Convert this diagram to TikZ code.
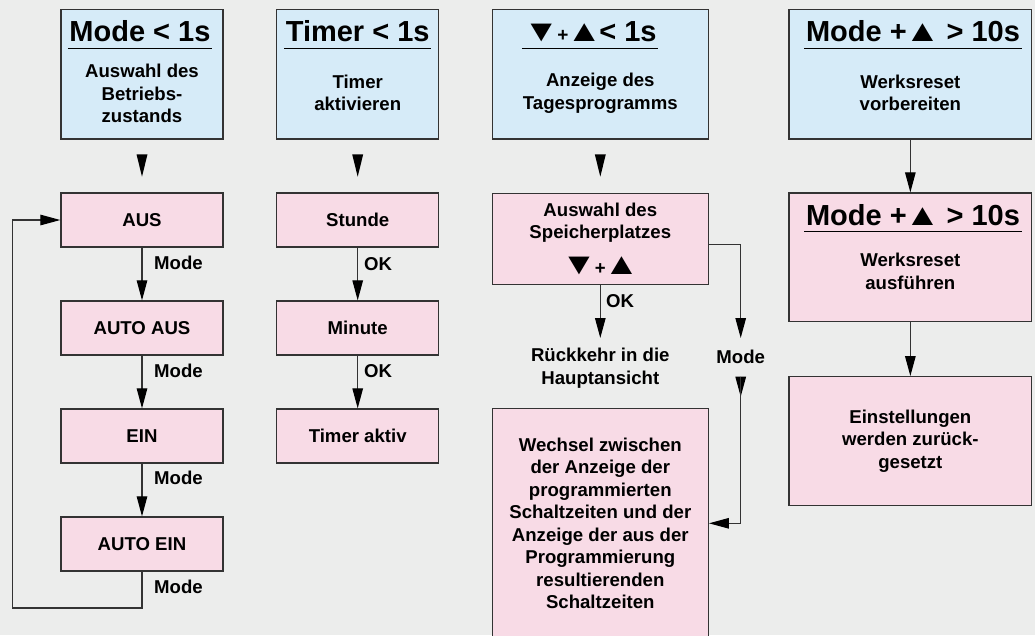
\documentclass[tikz,border=0pt]{standalone}
\usepackage{fontspec}
\usepackage{graphicx}
\setmainfont{Liberation Sans}
\usetikzlibrary{arrows.meta}
\definecolor{bgc}{RGB}{236,237,236}
\definecolor{bluec}{RGB}{214,235,248}
\definecolor{pinkc}{RGB}{248,219,230}
\definecolor{linec}{RGB}{51,51,51}
\newcommand\smallplus{{\fontsize{19}{19}\selectfont+}}
\newcommand\dtri{\scalebox{1.25}[1.05]{\fontsize{29}{29}\selectfont▼}}
\newcommand\utri{\scalebox{1.25}[1.05]{\fontsize{29}{29}\selectfont▲}}
\begin{document}
\begin{tikzpicture}[x=1pt,y=-1pt,
  font=\fontsize{18.6}{22.5}\selectfont\bfseries,
  box/.style={draw=linec,line width=1.3pt,inner sep=0pt,align=center},
  bluebox/.style={box,fill=bluec,minimum height=129.7pt},
  pinkbox/.style={box,fill=pinkc},
  hdr/.style={font=\fontsize{29}{34}\selectfont\bfseries,inner xsep=1.5pt,inner ysep=0pt,anchor=base},
  lbl/.style={inner sep=0pt,anchor=west},
  arr/.style={draw=linec,line width=1.2pt,-{Triangle[length=20pt,width=10.5pt,color=black]}}]
\useasboundingbox (0,0) rectangle (1035,635);
\fill[bgc] (0,0) rectangle (1035,635);
% Betriebszustand
\node[bluebox,minimum width=162pt] (mode) at (142,74.2) {};
\node[hdr] (modeh) at (140,41.7) {Mode < 1s};
\node[align=center] (modet) at (142,93.5) {Auswahl des\\Betriebs-\\zustands};
\node[pinkbox,minimum width=162pt,minimum height=54pt] (aus) at (142,220) {AUS};
\node[pinkbox,minimum width=162pt,minimum height=54pt] (autoaus) at (142,328) {AUTO AUS};
\node[pinkbox,minimum width=162pt,minimum height=54pt] (ein) at (142,436) {EIN};
\node[pinkbox,minimum width=162pt,minimum height=54pt] (autoein) at (142,544) {AUTO EIN};
\draw[arr] (aus) -- (autoaus);
\draw[arr] (autoaus) -- (ein);
\draw[arr] (ein) -- (autoein);
\coordinate (back) at (12.7,608);
\draw[arr] (autoein) |- (back) |- (aus);
\node[lbl] (m1) at (154,262.7) {Mode};
\node[lbl] (m2) at (154,371) {Mode};
\node[lbl] (m3) at (154,478.3) {Mode};
\node[lbl] (m4) at (154,586.7) {Mode};
% Timer
\node[bluebox,minimum width=162pt] (timer) at (357.7,74.2) {};
\node[hdr] (timerh) at (357.7,41.7) {Timer < 1s};
\node[align=center] (timert) at (357.7,93) {Timer\\aktivieren};
\node[pinkbox,minimum width=162pt,minimum height=54pt] (stunde) at (357.7,220) {Stunde};
\node[pinkbox,minimum width=162pt,minimum height=54pt] (minute) at (357.7,328) {Minute};
\node[pinkbox,minimum width=162pt,minimum height=54pt] (aktiv) at (357.7,436) {Timer aktiv};
\draw[arr] (stunde) -- (minute);
\draw[arr] (minute) -- (aktiv);
\node[lbl] (ok1) at (364,264.3) {OK};
\node[lbl] (ok2) at (364,371) {OK};
% Tagesprogramm
\node[bluebox,minimum width=216pt] (tag) at (600.3,74.2) {};
\node[hdr] (tagh) at (590,41.7) {\dtri\kern-2pt\smallplus\kern-2pt\utri\kern-3pt< 1s};
\node[align=center] (tagt) at (600.3,93) {Anzeige des\\Tagesprogramms};
\node[pinkbox,minimum width=216pt,minimum height=91pt] (platz) at (600.3,238.8)
  {Auswahl des\\Speicherplatzes\\[13pt]\dtri\kern-2pt+\kern-2pt\utri};
\coordinate (okend) at (600.3,338);
\draw[arr] (platz) -- (okend);
\node[lbl] (ok3) at (606,300.7) {OK};
\node[align=center] (haupt) at (600.3,368) {Rückkehr in die\\Hauptansicht};
\coordinate (modeend) at (740.7,338);
\draw[arr] ([yshift=-5.5pt]platz.east) -| (modeend);
\node (m5) at (740.7,356.7) {Mode};
\node[pinkbox,minimum width=216pt,minimum height=229.2pt] (wechsel) at (600.3,523.3)
  {Wechsel zwischen\\der Anzeige der\\programmierten\\Schaltzeiten und der\\Anzeige der aus der\\Programmierung\\resultierenden\\Schaltzeiten};
\coordinate (modetip) at (740.7,376.7);
\coordinate (modetip2) at (740.7,396.7);
\draw[arr] (modetip) -- (modetip2);
\draw[arr] (modetip) |- (wechsel);
% Werksreset
\node[bluebox,minimum width=242.7pt] (prep) at (910.35,74.2) {};
\node[hdr] (preph) at (913,41.7) {Mode +\kern-2pt\utri\hspace{6pt}> 10s};
\node[align=center] (prept) at (910.35,93) {Werksreset\\vorbereiten};
\node[pinkbox,minimum width=242.7pt,minimum height=128.7pt] (exec) at (910.35,257.35) {};
\node[hdr] (exech) at (913,225) {Mode +\kern-2pt\utri\hspace{6pt}> 10s};
\node[align=center] (exect) at (910.35,271.3) {Werksreset\\ausführen};
\node[pinkbox,minimum width=242.7pt,minimum height=129pt] (einst) at (910.35,441.2)
  {Einstellungen\\werden zurück-\\gesetzt};
\draw[arr] (prep) -- (exec);
\draw[arr] (exec) -- (einst);
% Unterstriche und freie Pfeilspitzen
\foreach \h in {modeh,timerh,tagh,preph,exech}
  \draw[line width=1.2pt] ([yshift=-6.6pt]\h.base west) -- ([yshift=-6.6pt]\h.base east);
\foreach \x in {142,357.7,600.3}
  \fill (\x-5.5,154.3) -- (\x+5.5,154.3) -- (\x,176.7) -- cycle;
\end{tikzpicture}
\end{document}
